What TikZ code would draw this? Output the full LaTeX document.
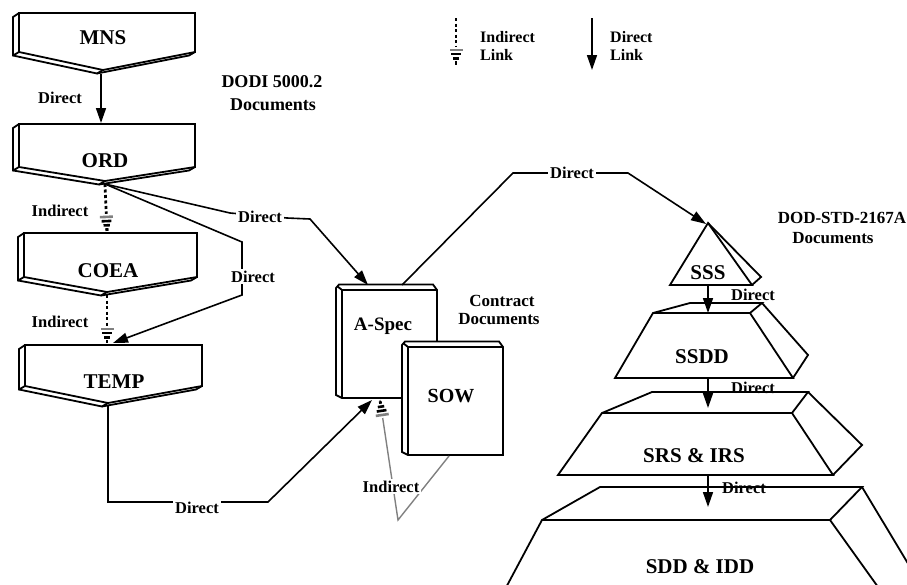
\documentclass[tikz,border=0pt]{standalone}
\usepackage{fontspec}
\setmainfont{Liberation Serif}
\usetikzlibrary{arrows.meta,decorations.markings}
\newcommand\fsz[1]{\fontsize{#1}{#1}\selectfont\bfseries}
% pentagon document box: xl, xr, yt, yb, xt, ytip
\newcommand\pentdoc[6]{%
  \draw[boxline,fill=white] (#1,#3) -- (#2,#3) -- (#2,#4) -- (#5,#6) -- (#1,#4) -- cycle;
  \draw[boxline] (#1,#3) -- ({#1-6},{#3+4}) -- ({#1-6},{#4+3.5}) -- ({#5-6},{#6+3.5}) -- ({#2-6},{#4+3.5}) -- (#2,#4);
  \draw[boxline] (#1,#4) -- ({#1-6},{#4+3.5}) (#5,#6) -- ({#5-6},{#6+3.5});
}
% book document: xl, yt, xr, yb
\newcommand\bookdoc[4]{%
  \draw[boxline,fill=white] ({#1-6},{#2-2}) -- ({#1-3},{#2-5.5}) -- ({#3-4},{#2-5.5}) -- (#3,#2) -- (#3,#4) -- (#1,#4) -- ({#1-6},{#4-3}) -- cycle;
  \draw[boxline] (#1,#4) -- (#1,#2) -- (#3,#2) (#1,#2) -- ({#1-5},{#2-4});
}
\begin{document}
\begin{tikzpicture}[x=1pt,y=-1pt,
  boxline/.style={line width=1.8pt,line join=miter},
  conn/.style={line width=1.6pt},
  direct/.style={conn,-{Triangle[length=15pt,width=10pt]}},
  hatchtip/.style={postaction={decorate,decoration={markings,mark=at position 1 with {
     \fill[white] (-18,-8) -- (-18,8) -- (-0.8,0) -- cycle;
     \fill[black] (-3.8,-1.4) rectangle (-1.2,1.4);
     \fill[black] (-8,-3.2) rectangle (-5.4,3.2);
     \fill[black] (-12.2,-4.9) rectangle (-9.6,4.9);
     \fill[gray] (-16.4,-6.5) rectangle (-13.8,6.5);}}}},
  indirect/.style={line width=2.8pt,dash pattern=on 3pt off 2.5pt,hatchtip},
  lbl/.style={font=\fsz{16.5},inner sep=1pt,anchor=base},
  cutlbl/.style={lbl,fill=white,inner sep=2pt},
  ttl/.style={font=\fsz{21},inner sep=0pt,anchor=base},
  note/.style={font=\fsz{18},inner sep=0pt,anchor=base},
  legtxt/.style={font=\fsz{16},inner sep=0pt,anchor=north west,align=left}]
\useasboundingbox (0,0) rectangle (907,584);
\clip (0,0) rectangle (907,584);

% ---------- DODI 5000.2 documents ----------
\pentdoc{19}{195}{13}{52}{103}{70}
\pentdoc{19}{195}{124}{167}{105}{181}
\pentdoc{24}{197}{233}{277}{107}{292}
\pentdoc{25}{202}{345}{386}{108}{403}
\node[ttl] (mns) at (103,44) {MNS};
\node[ttl] (ord) at (105,167) {ORD};
\node[ttl] (coea) at (108,277) {COEA};
\node[ttl] (temp) at (114,388) {TEMP};

\coordinate (mnsTip) at (101,74);
\coordinate (ordTop) at (101,123);
\coordinate (ordTip) at (105,184);
\coordinate (coeaTop) at (107,232);
\coordinate (coeaTip) at (107,295);
\coordinate (tempTop) at (107,344);
\coordinate (tempTopR) at (113,343);
\coordinate (tempTip) at (108,406);

% ---------- Contract documents ----------
\bookdoc{342}{290}{437}{398}
\bookdoc{408}{347}{503}{455}
\node[font=\fsz{19},inner sep=0pt,anchor=base] (aspec) at (383,330) {A-Spec};
\node[font=\fsz{20},inner sep=0pt,anchor=base] (sow) at (451,402) {SOW};
\coordinate (aspecTopL) at (368,285);
\coordinate (aspecTop) at (402,285);
\coordinate (aspecBotL) at (372,400);
\coordinate (aspecBotR) at (380,400);
\coordinate (sowBot) at (449,456);

% ---------- DOD-STD-2167A documents ----------
\draw[boxline,fill=white] (708,223) -- (752,285) -- (670,285) -- cycle;
\draw[boxline] (708,223) -- (761,277) -- (752,285);
\draw[boxline,fill=white] (653,313) -- (750,313) -- (793,378) -- (615,378) -- cycle;
\draw[boxline] (653,313) -- (690,303) -- (762,303) -- (750,313) (762,303) -- (808,355) -- (793,378);
\draw[boxline,fill=white] (602,413) -- (792,413) -- (833,475) -- (558,475) -- cycle;
\draw[boxline] (602,413) -- (652,392) -- (808,392) -- (792,413) (808,392) -- (862,445) -- (833,475);
\draw[boxline,fill=white] (542,520) -- (830,520) -- (916,640) -- (478,640) -- cycle;
\draw[boxline] (542,520) -- (600,487) -- (862,487) -- (830,520) (862,487) -- (960,650);
\node[ttl] (sss) at (708,279) {SSS};
\node[ttl] (ssdd) at (702,363) {SSDD};
\node[ttl] (srs) at (694,462) {SRS \& IRS};
\node[ttl] (sdd) at (700,573) {SDD \& IDD};
\coordinate (sssApex) at (706,224);
\coordinate (sssBase) at (708,286);
\coordinate (ssddTop) at (708,313);
\coordinate (ssddBot) at (708,379);
\coordinate (srsTop) at (708,408);
\coordinate (srsBot) at (708,476);
\coordinate (sddTop) at (708,507);

% ---------- connectors ----------
\draw[direct] (mnsTip) -- (ordTop);
\draw[indirect] (ordTip) -- (coeaTop);
\draw[indirect] (coeaTip) -- (tempTop);
\draw[direct] (ordTip) -- (242,242) -- (242,295) -- (tempTopR);
\draw[direct] (ordTip) -- (230,213) -- (287,218) -- (310,219) -- (aspecTopL);
\draw[gray,line width=1.4pt,hatchtip] (sowBot) -- (398,520) -- (aspecBotR);
\draw[direct] (tempTip) -- (108,502) -- (268,502) -- (aspecBotL);
\draw[direct] (aspecTop) -- (513,173) -- (628,173) -- (sssApex);
\draw[direct] (sssBase) -- (ssddTop);
\draw[direct] (ssddBot) -- (srsTop);
\draw[direct] (srsBot) -- (sddTop);

% ---------- connector labels ----------
\node[lbl] (l1) at (60,103) {Direct};
\node[lbl] (l2) at (60,216) {Indirect};
\node[lbl] (l3) at (60,327) {Indirect};
\node[cutlbl] (l4) at (260,222) {Direct};
\node[cutlbl] (l5) at (253,282) {Direct};
\node[cutlbl] (l6) at (197,513) {Direct};
\node[cutlbl] (l7) at (391,492) {Indirect};
\node[cutlbl] (l8) at (572,178) {Direct};
\node[lbl] (l9) at (753,300) {Direct};
\node[lbl] (l10) at (753,393) {Direct};
\node[lbl] (l11) at (744,493) {Direct};

% ---------- titles ----------
\node[note] (t1) at (272,87) {DODI 5000.2};
\node[note] (t2) at (273,110) {Documents};
\node[font=\fsz{17},inner sep=0pt,anchor=base] (t3) at (502,306) {Contract};
\node[font=\fsz{17},inner sep=0pt,anchor=base] (t4) at (499,324) {Documents};
\node[font=\fsz{17},inner sep=0pt,anchor=base] (t5) at (842,223) {DOD-STD-2167A};
\node[font=\fsz{17},inner sep=0pt,anchor=base] (t6) at (833,243) {Documents};

% ---------- legend ----------
\coordinate (li1) at (456,18);
\coordinate (li2) at (456,65);
\draw[indirect] (li1) -- (li2);
\node[legtxt] (lg1) at (480,31) {Indirect\\[2pt]Link};
\coordinate (ld1) at (592,18);
\coordinate (ld2) at (592,70);
\draw[direct] (ld1) -- (ld2);
\node[legtxt] (lg2) at (610,31) {Direct\\[2pt]Link};
\end{tikzpicture}
\end{document}
